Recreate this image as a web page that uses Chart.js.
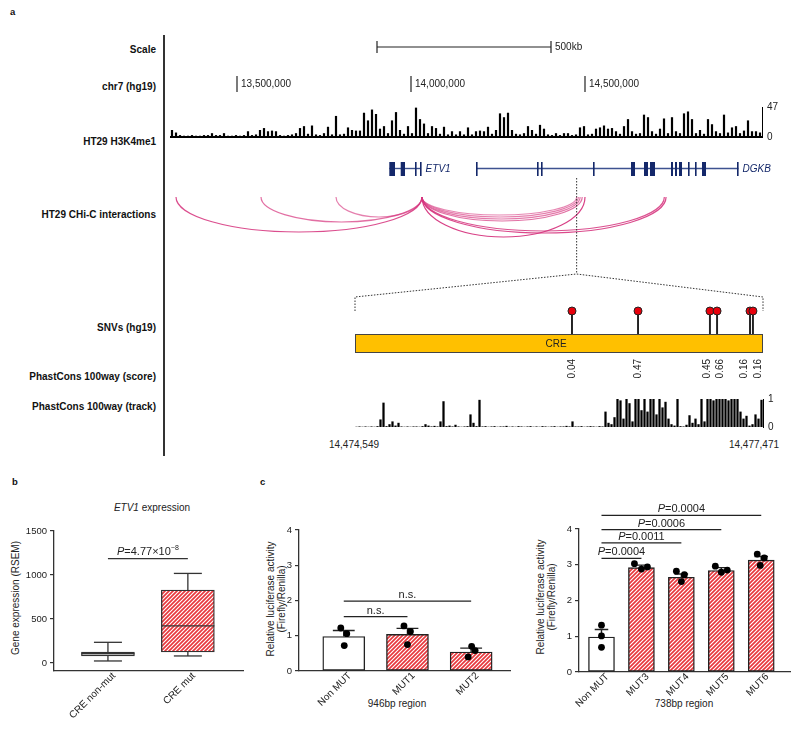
<!DOCTYPE html>
<html lang="en"><head><meta charset="utf-8"><title>ETV1 CRE figure</title>
<script src="https://cdn.jsdelivr.net/npm/chart.js@4.4.1/dist/chart.umd.min.js"></script>
<style>
html,body{margin:0;padding:0;background:#fff}
body{position:relative;width:800px;height:748px;overflow:hidden;font-family:"Liberation Sans",Arial,Helvetica,sans-serif;color:#222}
canvas{position:absolute;display:block}
.t{position:absolute;white-space:nowrap;line-height:1}
.lab{position:absolute;right:644px;font-weight:bold;font-size:10px;white-space:nowrap;line-height:1;color:#111}
.pl{position:absolute;font-weight:bold;font-size:9.5px;line-height:1;color:#111}
.c{transform:translate(-50%,-50%)}
.rot{transform:translate(-50%,-50%) rotate(-90deg);text-align:center}
</style></head><body>
<div class="pl" style="left:10px;top:7px">a</div>
<div class="pl" style="left:12px;top:477px">b</div>
<div class="pl" style="left:260px;top:477px">c</div>
<div style="position:absolute;left:163px;top:35px;width:1.5px;height:421px;background:#333"></div>
<div class="lab" style="top:45px">Scale</div>
<div class="lab" style="top:82px">chr7 (hg19)</div>
<div class="lab" style="top:137px">HT29 H3K4me1</div>
<div class="lab" style="top:210px">HT29 CHi-C interactions</div>
<div class="lab" style="top:323px">SNVs (hg19)</div>
<div class="lab" style="top:372px">PhastCons 100way (score)</div>
<div class="lab" style="top:402px">PhastCons 100way (track)</div>
<div id="creL" class="t c" style="left:354px;top:445px;font-size:10px"></div>
<div id="creR" class="t c" style="left:754px;top:445px;font-size:10px"></div>
<div class="t c" style="left:152px;top:508px;font-size:10px"><i>ETV1</i> expression</div>
<div class="t rot" style="left:16px;top:598px;font-size:10px">Gene expression (RSEM)</div>
<div class="t rot" style="left:276px;top:599px;font-size:10px;line-height:11px">Relative luciferase activity<br>(Firefly/Renilla)</div>
<div class="t rot" style="left:546px;top:597px;font-size:10px;line-height:11px">Relative luciferase activity<br>(Firefly/Renilla)</div>
<div class="t c" style="left:397px;top:704px;font-size:10px">946bp region</div>
<div class="t c" style="left:684px;top:704px;font-size:10px">738bp region</div>

<canvas id="cScale" width="630" height="18" style="left:170px;top:38px"></canvas>
<canvas id="cCoord" width="630" height="24" style="left:170px;top:72px"></canvas>
<canvas id="cSig" width="630" height="52" style="left:170px;top:96px"></canvas>
<canvas id="cGene" width="630" height="18" style="left:170px;top:160px"></canvas>
<canvas id="cArc" width="630" height="52" style="left:170px;top:196px"></canvas>
<canvas id="cSnv" width="445" height="90" style="left:355px;top:300px"></canvas>
<canvas id="cPhast" width="445" height="50" style="left:355px;top:388px"></canvas>
<canvas id="cConn" width="630" height="140" style="left:170px;top:176px"></canvas>
<canvas id="cBox" width="260" height="248" style="left:0px;top:500px"></canvas>
<canvas id="cLucL" width="265" height="248" style="left:250px;top:500px"></canvas>
<canvas id="cLucR" width="270" height="253" style="left:530px;top:495px"></canvas>

<script>
// ================= DATA =================
// Panel a: genomic window (chr7, hg19)
const genomeWindow = [13307471, 15008621];
const chromTicks = [13500000, 14000000, 14500000];
const scaleBar = [13902300, 14402300];
const scaleBarLabel = '500kb';
const h3k4me1Max = 47;
const h3k4me1Signal = [
  11,7,3,2,2,3,2,2,3,3, 6,3,3,6,2,2,3,2,3,9,
  3,4,11,14,9,10,9,3,2,3, 4,6,14,17,5,18,4,3,6,16,
  4,33,4,5,15,11,10,10,38,26, 43,36,13,17,6,26,39,11,5,17,
  6,46,28,21,6,17,14,5,16,4, 9,4,9,4,15,4,9,10,9,16,
  5,11,37,31,38,11,5,4,6,17, 11,5,19,13,4,3,6,3,6,6,
  3,4,15,17,4,5,13,15,18,13, 14,9,5,17,28,9,5,6,35,31,
  9,5,13,29,6,31,9,6,37,40, 28,6,11,5,28,20,9,6,35,7,
  15,17,6,10,26,9,9,7];
const geneNames = ['ETV1', 'DGKB'];
const etv1Exons = [[13937650,13954030],[13970410,13982770],[14011500,14013500],[14025870,14027870]];
const dgkbExons = [[14186790,14190500],[14362080,14366000],[14373574,14377500],[14523002,14526000],
  [14632198,14643693],[14669555,14681050],[14686797,14701165],[14747142,14752890],[14758637,14764384],
  [14770131,14778752],[14795994,14800000],[14816109,14820000],[14836224,14847718],[14936800,14941000]];
const chicBait = 14031600;
const chicOther = [13324700, 13569000, 13784500, 14476000, 14481000, 14486000, 14492000, 14500000, 14728000, 14733000];
const chicScore = [35, 25, 20, 18, 20, 22, 24, 40, 34, 36];
const creRegion = [14474549, 14477471];
const creLabel = 'CRE';
const snvPos = [14476103, 14476576, 14477091, 14477142, 14477378, 14477399];
const snvPhastCons = ['0.04', '0.47', '0.45', '0.66', '0.16', '0.16'];
const phastConsTrack = [
  0.01,0.02,0.01,0.02,0.01,0.02,0.01,0.03,0.27,0.87,
  0.03,0.10,0.20,0.05,0.15,0.02,0.01,0.02,0.01,0.02,
  0.02,0.01,0.03,0.10,0.05,0.02,0.04,0.02,0.20,0.92,
  0.03,0.05,0.02,0.08,0.02,0.01,0.02,0.03,0.45,0.15,
  0.03,0.97,0.02,0.03,0.01,0.02,0.03,0.01,0.02,0.02,
  0.04,0.01,0.02,0.01,0.03,0.02,0.01,0.02,0.03,0.01,
  0.02,0.01,0.03,0.02,0.01,0.02,0.03,0.01,0.02,0.02,
  0.04,0.02,0.20,0.02,0.02,0.03,0.01,0.02,0.03,0.02,
  0.01,0.03,0.02,0.55,0.15,0.10,0.35,1.00,0.95,0.30,
  1.00,0.85,0.20,1.00,1.00,0.60,1.00,0.55,1.00,1.00,
  0.45,1.00,0.70,0.90,0.30,0.10,0.05,1.00,0.03,0.02,
  0.08,0.42,0.15,0.30,0.10,1.00,0.20,1.00,1.00,0.95,
  1.00,1.00,1.00,1.00,0.95,1.00,1.00,1.00,0.55,0.30,
  0.40,0.05,0.10,0.45,0.30,0.97];

// Panel b: ETV1 expression box plot
const boxGroups = ['CRE non-mut', 'CRE mut'];
const boxLow = [23, 80];
const boxQ1 = [80, 125];
const boxMedian = [106, 421];
const boxQ3 = [125, 828];
const boxHigh = [235, 1018];
const boxTicks = [0, 500, 1000, 1500];
const boxPLevel = 1185;
const boxPMantissa = '4.77';
const boxPExponent = '\u22128';

// Panel c: luciferase, 946bp region
const lucLGroups = ['Non MUT', 'MUT1', 'MUT2'];
const lucLMean = [0.98, 1.04, 0.54];
const lucLSem = [0.17, 0.17, 0.11];
const lucLReps = [[1.22, 1.06, 0.72], [1.28, 1.12, 0.75], [0.70, 0.58, 0.40]];
const lucLSigFrom = [0, 0];
const lucLSigTo = [1, 2];
const lucLSigLevel = [1.54, 1.98];
const lucLSigText = ['n.s.', 'n.s.'];

// Panel c: luciferase, 738bp region
const lucRGroups = ['Non MUT', 'MUT3', 'MUT4', 'MUT5', 'MUT6'];
const lucRMean = [0.98, 2.92, 2.65, 2.84, 3.13];
const lucRSem = [0.21, 0.07, 0.09, 0.08, 0.10];
const lucRReps = [[1.31, 1.01, 0.69], [3.03, 2.88, 2.94], [2.82, 2.53, 2.72], [2.96, 2.79, 2.85], [3.30, 2.98, 3.19]];
const lucRSigFrom = [0, 0, 0, 0];
const lucRSigTo = [1, 2, 3, 4];
const lucRSigLevel = [3.18, 3.61, 3.98, 4.38];
const lucRSigText = ['0.0004', '0.0011', '0.0006', '0.0004'];
const lucTicks = [0, 1, 2, 3, 4];

// ================= RENDERING =================
const FONT = '"Liberation Sans", Arial, Helvetica, sans-serif';
Chart.defaults.font.family = FONT;
Chart.defaults.font.size = 9.5;
Chart.defaults.color = '#222';
Chart.defaults.animation = false;
Chart.defaults.responsive = false;
Chart.defaults.maintainAspectRatio = false;
Chart.defaults.events = [];
Chart.defaults.layout.autoPadding = false;
Chart.defaults.plugins.legend.display = false;
Chart.defaults.plugins.tooltip.enabled = false;

document.getElementById('creL').textContent = creRegion[0].toLocaleString('en-US');
document.getElementById('creR').textContent = creRegion[1].toLocaleString('en-US');

const hid = (min, max, extra) => Object.assign({type: 'linear', min, max, display: false, offset: false}, extra || {});
const mk = (id, cfg) => new Chart(document.getElementById(id), cfg);

function makeHatch() {
  const c = document.createElement('canvas'); c.width = 4; c.height = 4;
  const g = c.getContext('2d');
  g.fillStyle = '#fff'; g.fillRect(0, 0, 4, 4);
  g.strokeStyle = '#e8383d'; g.lineWidth = 1.7;
  g.beginPath();
  g.moveTo(0, 4); g.lineTo(4, 0);
  g.moveTo(-1, 1); g.lineTo(1, -1);
  g.moveTo(3, 5); g.lineTo(5, 3);
  g.stroke();
  return g.createPattern(c, 'repeat');
}
const HATCH = makeHatch();

function drawRich(ctx, cx, baseY, parts) {
  let w = 0;
  parts.forEach(p => { ctx.font = p.f; p.w = ctx.measureText(p.t).width; w += p.w; });
  let x = cx - w / 2;
  ctx.textAlign = 'left'; ctx.textBaseline = 'alphabetic';
  parts.forEach(p => { ctx.font = p.f; ctx.fillText(p.t, x, baseY + (p.dy || 0)); x += p.w; });
}
function spread(xs, gap) {
  const o = xs.slice();
  for (let it = 0; it < 60; it++) {
    let moved = false;
    for (let i = 1; i < o.length; i++) {
      const d = o[i] - o[i - 1];
      if (d < gap) { const s = (gap - d) / 2; o[i - 1] -= s; o[i] += s; moved = true; }
    }
    if (!moved) break;
  }
  return o;
}

// ---- Scale bar
mk('cScale', {type: 'scatter',
  data: {datasets: [{data: scaleBar.map(v => ({x: v, y: 0})), showLine: true, borderColor: '#222', borderWidth: 1.2,
    pointStyle: 'line', pointRotation: 90, pointRadius: 6, pointBorderColor: '#222', pointBorderWidth: 1.2, clip: false}]},
  options: {layout: {padding: {right: 38}}, scales: {x: hid(genomeWindow[0], genomeWindow[1]), y: hid(-1, 1)}},
  plugins: [{id: 'sbl', afterDatasetsDraw(ch) {
    const {ctx, scales: {x, y}} = ch; ctx.save();
    ctx.font = '10px ' + FONT; ctx.fillStyle = '#222'; ctx.textBaseline = 'middle';
    ctx.fillText(scaleBarLabel, x.getPixelForValue(scaleBar[1]) + 4, y.getPixelForValue(0)); ctx.restore();
  }}]
});

// ---- Chromosome coordinates
mk('cCoord', {type: 'scatter',
  data: {datasets: [{data: chromTicks.map(v => ({x: v, y: 0})), pointStyle: 'line', pointRotation: 90, pointRadius: 8,
    pointBorderColor: '#222', pointBorderWidth: 1.2, clip: false}]},
  options: {layout: {padding: {right: 38}}, scales: {x: hid(genomeWindow[0], genomeWindow[1]), y: hid(-1, 1)}},
  plugins: [{id: 'cl', afterDatasetsDraw(ch) {
    const {ctx, scales: {x, y}} = ch; ctx.save();
    ctx.font = '10px ' + FONT; ctx.fillStyle = '#222'; ctx.textBaseline = 'middle';
    chromTicks.forEach(v => ctx.fillText(v.toLocaleString('en-US'), x.getPixelForValue(v) + 4, y.getPixelForValue(0)));
    ctx.restore();
  }}]
});

// ---- H3K4me1 signal
const sigBin = (genomeWindow[1] - genomeWindow[0]) / h3k4me1Signal.length;
mk('cSig', {type: 'bar',
  data: {datasets: [{data: h3k4me1Signal.map((v, i) => ({x: genomeWindow[0] + (i + 0.5) * sigBin, y: v})),
    backgroundColor: '#000', barPercentage: 0.55, categoryPercentage: 1}]},
  options: {layout: {padding: {top: 4, bottom: 4}},
    scales: {
      x: {type: 'linear', min: genomeWindow[0], max: genomeWindow[1], offset: false,
        grid: {display: false, drawTicks: false}, ticks: {display: false},
        border: {display: true, color: '#000', width: 2}, afterFit: s => { s.height = 0; }},
      y: {position: 'right', min: 0, max: h3k4me1Max, grid: {display: false, drawTicks: false},
        border: {display: true, color: '#000', width: 1}, ticks: {padding: 5, font: {size: 10}},
        afterBuildTicks: s => { s.ticks = [{value: 0}, {value: h3k4me1Max}]; }, afterFit: s => { s.width = 38; }}
    }}
});

// ---- Genes
const geneExons = [etv1Exons, dgkbExons];
mk('cGene', {type: 'scatter', data: {datasets: []},
  options: {layout: {padding: {right: 38}}, scales: {x: hid(genomeWindow[0], genomeWindow[1]), y: hid(-1, 1)}},
  plugins: [{id: 'genes', afterDatasetsDraw(ch) {
    const {ctx, scales: {x, y}} = ch; const cy = y.getPixelForValue(0); ctx.save();
    geneExons.forEach((ex, g) => {
      const s = x.getPixelForValue(ex[0][0]);
      let e = x.getPixelForValue(ex[ex.length - 1][1]);
      ctx.strokeStyle = '#3d5290'; ctx.lineWidth = 1.4;
      ctx.beginPath(); ctx.moveTo(s, cy - 0.5); ctx.lineTo(e, cy - 0.5); ctx.stroke();
      ctx.fillStyle = '#14286a';
      ex.forEach(([p, q]) => {
        const x1 = x.getPixelForValue(p), x2 = x.getPixelForValue(q);
        const w = Math.max(1.6, x2 - x1);
        ctx.fillRect(x1, cy - 7, w, 14);
        e = Math.max(e, x1 + w);
      });
      ctx.font = 'italic 10px ' + FONT; ctx.textBaseline = 'middle';
      ctx.fillText(geneNames[g], e + 4, cy);
    });
    ctx.restore();
  }}]
});

// ---- CHi-C arcs
mk('cArc', {type: 'scatter', data: {datasets: []},
  options: {layout: {padding: {right: 38, top: 1, bottom: 1}},
    scales: {x: hid(genomeWindow[0], genomeWindow[1]), y: hid(0, 50, {reverse: true})}},
  plugins: [{id: 'arcs', afterDatasetsDraw(ch) {
    const {ctx, scales: {x, y}} = ch; ctx.save();
    const y0 = y.getPixelForValue(0);
    chicOther.forEach((pos, i) => {
      const a = x.getPixelForValue(chicBait), b = x.getPixelForValue(pos);
      const ry = y.getPixelForValue(chicScore[i]) - y0;
      const alpha = Math.min(0.95, 0.3 + chicScore[i] / 60);
      ctx.strokeStyle = 'rgba(214,54,127,' + alpha + ')'; ctx.lineWidth = 1.2;
      ctx.beginPath(); ctx.ellipse((a + b) / 2, y0, Math.abs(b - a) / 2, ry, 0, 0, Math.PI); ctx.stroke();
    });
    ctx.restore();
  }}]
});

// ---- SNV lollipops + CRE box + PhastCons scores
mk('cSnv', {type: 'bar',
  data: {datasets: [
    {type: 'scatter', data: snvPos.map(p => ({x: p, y: 1})), pointRadius: 4, pointBackgroundColor: '#e8000b',
      pointBorderColor: '#222', pointBorderWidth: 1, clip: false, order: 1},
    {data: snvPos.map(p => ({x: p, y: 1})), backgroundColor: '#222', barThickness: 1.3, order: 2}]},
  options: {layout: {padding: {top: 11, bottom: 56, right: 37}},
    scales: {x: hid(creRegion[0], creRegion[1]), y: hid(0, 1)}},
  plugins: [{id: 'cre', afterDatasetsDraw(ch) {
    const {ctx, scales: {x}, chartArea: a} = ch;
    const x1 = x.getPixelForValue(creRegion[0]), x2 = x.getPixelForValue(creRegion[1]);
    const top = a.bottom, h = 19; ctx.save();
    ctx.fillStyle = '#ffc000'; ctx.fillRect(x1, top, x2 - x1, h);
    ctx.strokeStyle = '#444'; ctx.lineWidth = 1; ctx.strokeRect(x1 + 0.5, top + 0.5, x2 - x1 - 1, h - 1);
    ctx.fillStyle = '#222'; ctx.font = '10px ' + FONT; ctx.textAlign = 'center'; ctx.textBaseline = 'middle';
    ctx.fillText(creLabel, (x1 + x2) / 2 - 3, top + h / 2 + 0.5);
    const xs = spread(snvPos.map(p => x.getPixelForValue(p)), 13.5);
    ctx.textAlign = 'right';
    xs.forEach((px, i) => {
      ctx.save(); ctx.translate(px, top + h + 6); ctx.rotate(-Math.PI / 2);
      ctx.fillText(snvPhastCons[i], 0, 0); ctx.restore();
    });
    ctx.restore();
  }}]
});

// ---- PhastCons track
const phastBin = (creRegion[1] - creRegion[0]) / phastConsTrack.length;
mk('cPhast', {type: 'bar',
  data: {datasets: [{data: phastConsTrack.map((v, i) => ({x: creRegion[0] + (i + 0.5) * phastBin, y: v})),
    backgroundColor: '#000', barPercentage: 0.75, categoryPercentage: 1}]},
  options: {layout: {padding: {top: 6, bottom: 6}},
    scales: {
      x: {type: 'linear', min: creRegion[0], max: creRegion[1], offset: false, display: false},
      y: {position: 'right', min: 0, max: 1, grid: {display: false, drawTicks: false},
        border: {display: true, color: '#000', width: 1}, ticks: {padding: 5, font: {size: 10}},
        afterBuildTicks: s => { s.ticks = [{value: 0}, {value: 1}]; }, afterFit: s => { s.width = 37; }}
    }}
});

// ---- Zoom connector (dotted)
mk('cConn', {type: 'scatter', data: {datasets: []},
  options: {layout: {padding: {right: 38}}, scales: {x: hid(genomeWindow[0], genomeWindow[1]), y: hid(0, 1)}},
  plugins: [{id: 'conn', afterDraw(ch) {
    const snv = Chart.getChart('cSnv'); if (!snv) return;
    const {ctx, scales: {x}} = ch;
    const ox = snv.canvas.offsetLeft - ch.canvas.offsetLeft, oy = snv.canvas.offsetTop - ch.canvas.offsetTop;
    const ax = x.getPixelForValue((creRegion[0] + creRegion[1]) / 2);
    const lx = snv.scales.x.getPixelForValue(creRegion[0]) + ox, rx = snv.scales.x.getPixelForValue(creRegion[1]) + ox;
    const yTop = 2, yApex = 98, yJoin = oy - 3, yEnd = snv.chartArea.top + oy;
    ctx.save(); ctx.setLineDash([1.5, 1.5]); ctx.strokeStyle = '#333'; ctx.lineWidth = 1;
    ctx.beginPath();
    ctx.moveTo(ax, yTop); ctx.lineTo(ax, yApex);
    ctx.moveTo(lx, yEnd); ctx.lineTo(lx, yJoin); ctx.lineTo(ax, yApex); ctx.lineTo(rx, yJoin); ctx.lineTo(rx, yEnd);
    ctx.stroke(); ctx.restore();
  }}]
});

// ---- Panel b: box plot
const axisY = (ticks, min, max, w) => ({min, max,
  grid: {display: true, drawOnChartArea: false, drawTicks: true, tickLength: 4, color: '#333', lineWidth: 1.2},
  border: {display: true, color: '#333', width: 1.3}, ticks: {padding: 3, font: {size: 9.5}, callback: v => String(v)},
  afterBuildTicks: s => { s.ticks = ticks.map(v => ({value: v})); }, afterFit: s => { s.width = w; }});
const axisX = (groups, min, max, h) => ({type: 'linear', min, max, offset: false,
  grid: {display: false, drawTicks: false}, border: {display: true, color: '#333', width: 1.3},
  ticks: {autoSkip: false, minRotation: 45, maxRotation: 45, padding: -1, labelOffset: 6, font: {size: 10},
    callback: v => groups[v - 1]},
  afterBuildTicks: s => { s.ticks = groups.map((g, i) => ({value: i + 1})); }, afterFit: s => { s.height = h; }});

mk('cBox', {type: 'bar',
  data: {datasets: [{data: boxGroups.map((g, i) => ({x: i + 1, y: [boxQ1[i], boxQ3[i]]})),
    backgroundColor: ['#d9d9d9', HATCH], borderColor: '#333', borderWidth: 1.3, borderSkipped: false, barThickness: 53}]},
  options: {layout: {padding: {top: 31, right: 17}},
    scales: {x: axisX(boxGroups, 0.325, 2.69, 77), y: axisY(boxTicks, -91, 1500, 54)}},
  plugins: [{id: 'box', afterDatasetsDraw(ch) {
    const {ctx, scales: {x, y}} = ch; const meta = ch.getDatasetMeta(0); ctx.save();
    ctx.strokeStyle = '#333'; ctx.lineWidth = 1.3;
    const L = (a, b, c, d) => { ctx.beginPath(); ctx.moveTo(a, b); ctx.lineTo(c, d); ctx.stroke(); };
    boxGroups.forEach((g, i) => {
      const cx = x.getPixelForValue(i + 1), hw = meta.data[i].width / 2, cap = 14;
      L(cx - hw, y.getPixelForValue(boxMedian[i]), cx + hw, y.getPixelForValue(boxMedian[i]));
      L(cx, y.getPixelForValue(boxQ3[i]), cx, y.getPixelForValue(boxHigh[i]));
      L(cx - cap, y.getPixelForValue(boxHigh[i]), cx + cap, y.getPixelForValue(boxHigh[i]));
      L(cx, y.getPixelForValue(boxQ1[i]), cx, y.getPixelForValue(boxLow[i]));
      L(cx - cap, y.getPixelForValue(boxLow[i]), cx + cap, y.getPixelForValue(boxLow[i]));
    });
    const x1 = x.getPixelForValue(1), x2 = x.getPixelForValue(2), py = y.getPixelForValue(boxPLevel);
    L(x1, py, x2, py);
    ctx.fillStyle = '#222';
    drawRich(ctx, (x1 + x2) / 2, py - 3.5, [
      {t: 'P', f: 'italic 11px ' + FONT}, {t: '=' + boxPMantissa + '\u00d710', f: '11px ' + FONT},
      {t: boxPExponent, f: '7px ' + FONT, dy: -5}]);
    ctx.restore();
  }}]
});

// ---- Panel c: luciferase bar charts
function lucChart(id, groups, mean, sem, reps, jitPx, unitPx, xr, pad, barW, xH, sigFrom, sigTo, sigLevel, sigText, italicP) {
  const fills = groups.map((g, i) => i === 0 ? '#fff' : HATCH);
  const dots = [];
  reps.forEach((r, i) => r.forEach((v, k) => dots.push({x: i + 1 + jitPx[i][k] / unitPx, y: v})));
  return mk(id, {type: 'bar',
    data: {datasets: [
      {data: groups.map((g, i) => ({x: i + 1, y: mean[i]})), backgroundColor: fills, borderColor: '#222',
        borderWidth: 1.4, borderSkipped: false, barThickness: barW, order: 2},
      {type: 'scatter', data: dots, pointRadius: 3.4, pointBackgroundColor: '#000', pointBorderColor: '#000',
        pointBorderWidth: 0, clip: false, order: 1}]},
    options: {layout: {padding: pad},
      scales: {x: axisX(groups, xr[0], xr[1], xH), y: axisY(lucTicks, 0, 4, 49)}},
    plugins: [{id: 'err', afterDatasetDraw(ch, args) {
      if (args.index !== 0) return;
      const {ctx, scales: {x, y}} = ch; const meta = ch.getDatasetMeta(0); ctx.save();
      ctx.strokeStyle = '#222'; ctx.lineWidth = 1.4;
      groups.forEach((g, i) => {
        const cx = x.getPixelForValue(i + 1), cap = meta.data[i].width * 0.26;
        const yt = y.getPixelForValue(mean[i]), ye = y.getPixelForValue(mean[i] + sem[i]);
        ctx.beginPath(); ctx.moveTo(cx, yt); ctx.lineTo(cx, ye); ctx.moveTo(cx - cap, ye); ctx.lineTo(cx + cap, ye); ctx.stroke();
      });
      ctx.restore();
    }, afterDraw(ch) {
      const {ctx, scales: {x, y}} = ch; ctx.save();
      ctx.strokeStyle = '#222'; ctx.lineWidth = 1.3; ctx.fillStyle = '#222';
      sigLevel.forEach((lv, i) => {
        const x1 = x.getPixelForValue(sigFrom[i] + 1), x2 = x.getPixelForValue(sigTo[i] + 1), yy = y.getPixelForValue(lv);
        ctx.beginPath(); ctx.moveTo(x1, yy); ctx.lineTo(x2, yy); ctx.stroke();
        const parts = italicP ? [{t: 'P', f: 'italic 11px ' + FONT}, {t: '=' + sigText[i], f: '11px ' + FONT}]
                              : [{t: sigText[i], f: '11px ' + FONT}];
        drawRich(ctx, (x1 + x2) / 2, yy - 3, parts);
      });
      ctx.restore();
    }}]
  });
}

lucChart('cLucL', lucLGroups, lucLMean, lucLSem, lucLReps,
  [[-3, 3, 0.5], [-3.5, 3, 0], [0.5, 4, -3]], 64, [0.297, 3.61], {top: 30, right: 5}, 42, 77,
  lucLSigFrom, lucLSigTo, lucLSigLevel, lucLSigText, false);
lucChart('cLucR', lucRGroups, lucRMean, lucRSem, lucRReps,
  [[0, 0, 0], [-7, 0, 6], [-5, 0, 3], [-6, 0, 6], [-4, -1, 3]], 40, [0.437, 5.72], {top: 34, right: 10}, 26, 76,
  lucRSigFrom, lucRSigTo, lucRSigLevel, lucRSigText, true);
</script>
</body></html>
